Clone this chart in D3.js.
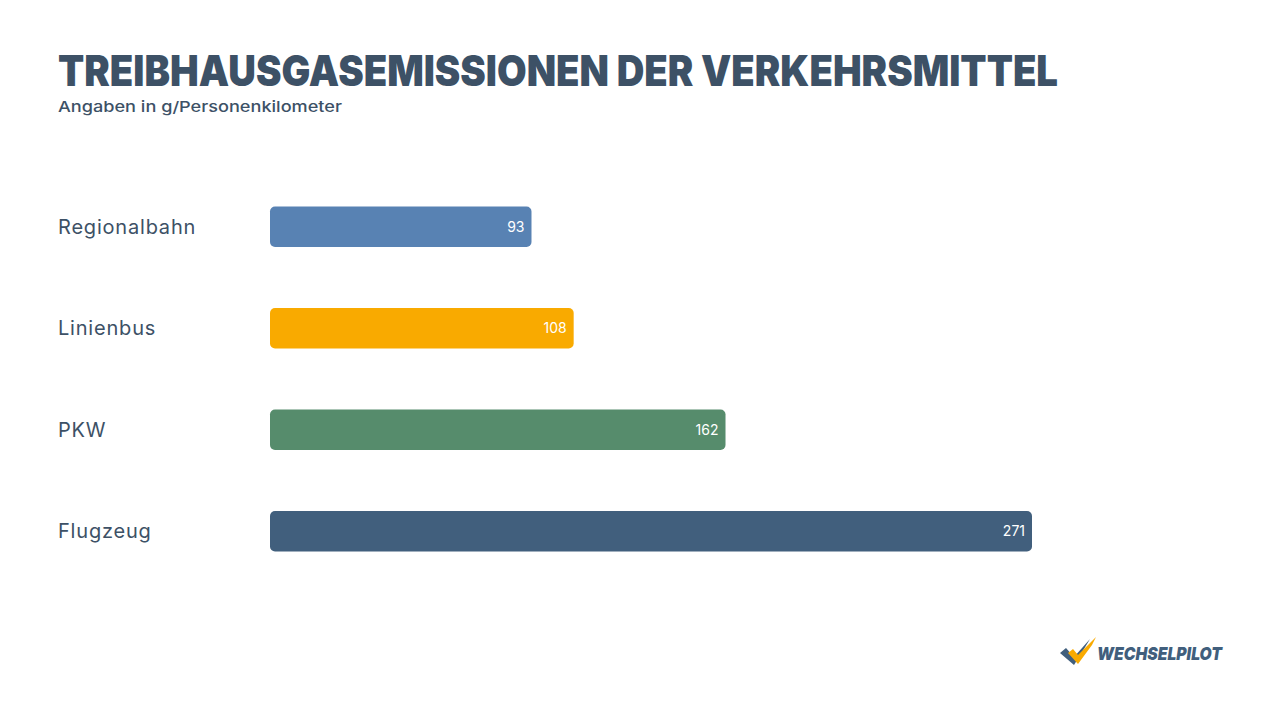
<!DOCTYPE html>
<html>
<head>
<meta charset="utf-8">
<script src="https://cdn.jsdelivr.net/npm/d3@7"></script>
<style>
  body { margin: 0; background: #fff; }
  svg { display: block; font-family: Inter, "Open Sans", sans-serif; }
</style>
</head>
<body>
<svg id="drawing_region"></svg>
<script>
var categories = ['Regionalbahn', 'Linienbus', 'PKW', 'Flugzeug'];
var values = [93, 108, 162, 271];
var colors = ['#5882b3', '#f9aa00', '#568c6c', '#415f7d'];

var data = categories.map(function(c, i) {
    return { name: c, value: values[i], color: colors[i] };
});

var W = 1280, H = 720;
var textColor = '#3d5166';

var svg = d3.select('#drawing_region')
    .attr('width', W)
    .attr('height', H);

// title + subtitle
svg.append('text')
    .attr('x', 58)
    .attr('y', 86)
    .attr('textLength', 1000)
    .attr('lengthAdjust', 'spacingAndGlyphs')
    .style('font-size', '42px')
    .style('font-weight', 900)
    .style('fill', textColor)
    .text('TREIBHAUSGASEMISSIONEN DER VERKEHRSMITTEL');

svg.append('text')
    .attr('x', 58)
    .attr('y', 112)
    .attr('textLength', 284)
    .attr('lengthAdjust', 'spacingAndGlyphs')
    .style('font-size', '15px')
    .style('font-weight', 500)
    .style('fill', textColor)
    .text('Angaben in g/Personenkilometer');

var xScale = d3.scaleLinear()
    .domain([0, d3.max(values)])
    .range([270, 1032]);

var yScale = d3.scaleBand()
    .domain(categories)
    .range([176, 582])
    .paddingInner(0.6)
    .paddingOuter(0.3);

var rows = svg.selectAll('g.row')
    .data(data)
    .enter()
    .append('g')
    .attr('class', 'row');

rows.append('rect')
    .attr('x', xScale(0))
    .attr('y', d => yScale(d.name))
    .attr('width', d => xScale(d.value) - xScale(0))
    .attr('height', yScale.bandwidth())
    .attr('rx', 5)
    .attr('fill', d => d.color);

rows.append('text')
    .attr('x', d => xScale(d.value) - 7)
    .attr('y', d => yScale(d.name) + yScale.bandwidth() / 2)
    .attr('dy', '0.35em')
    .attr('text-anchor', 'end')
    .style('font-size', '14px')
    .style('fill', '#fff')
    .text(d => d.value);

rows.append('text')
    .attr('x', 58)
    .attr('y', d => yScale(d.name) + yScale.bandwidth() / 2)
    .attr('dy', '0.35em')
    .style('font-size', '20px')
    .style('letter-spacing', '0.8px')
    .style('fill', textColor)
    .text(d => d.name);

// logo
var logo = svg.append('g').attr('transform', 'translate(1060,637)');
logo.append('path')
    .attr('d', 'M0,16 L6,11 L14,20 L30,2 L24,12 L14,28 Z')
    .attr('fill', '#415f7d');
logo.append('path')
    .attr('d', 'M8,16 L13,12 L18,18 L36,0 L32,8 L18,27 Z')
    .attr('fill', '#f9aa00');
logo.append('text')
    .attr('x', 37)
    .attr('y', 23)
    .attr('textLength', 125)
    .attr('lengthAdjust', 'spacingAndGlyphs')
    .style('font-size', '18px')
    .style('font-weight', 900)
    .style('font-style', 'italic')
    .style('fill', '#415f7d')
    .text('WECHSELPILOT');
</script>
</body>
</html>
